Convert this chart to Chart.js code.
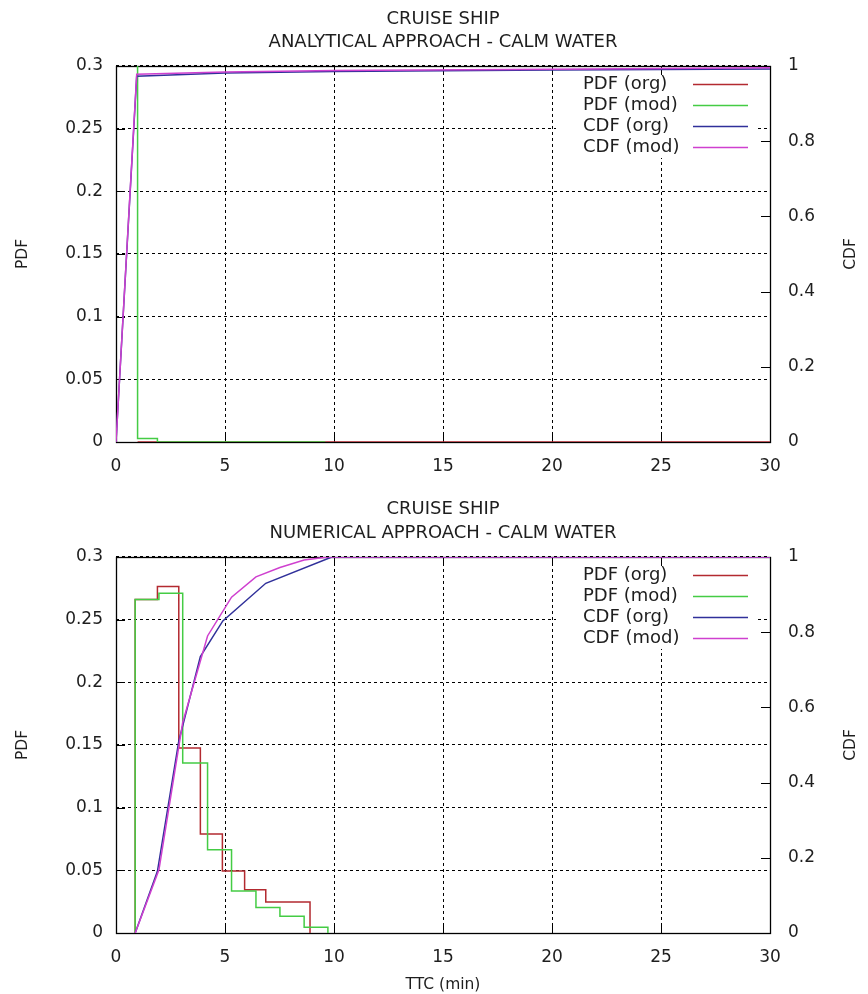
<!DOCTYPE html>
<html>
<head>
<meta charset="utf-8">
<title>Cruise ship TTC distributions</title>
<script src="https://cdn.jsdelivr.net/npm/chart.js@4"></script>
<style>
  html, body { margin: 0; padding: 0; background: #fff; }
  #wrap { position: relative; width: 868px; height: 994px; background: #fff; }
  canvas { position: absolute; left: 0; }
  #top { top: 0; }
  #bottom { top: 490px; }
</style>
</head>
<body>
<div id="wrap">
  <canvas id="top" width="868" height="490"></canvas>
  <canvas id="bottom" width="868" height="504"></canvas>
</div>
<script>
// ---- shared labels and ticks ----
const seriesLabels = ['PDF (org)', 'PDF (mod)', 'CDF (org)', 'CDF (mod)'];
const seriesColors = ['#b32a30', '#44cc44', '#30309a', '#cf40cf'];

const xTicks = [0, 5, 10, 15, 20, 25, 30];
const xTickLabels = ['0', '5', '10', '15', '20', '25', '30'];
const pdfTicks = [0, 0.05, 0.1, 0.15, 0.2, 0.25, 0.3];
const pdfTickLabels = ['0', '0.05', '0.1', '0.15', '0.2', '0.25', '0.3'];
const cdfTicks = [0, 0.2, 0.4, 0.6, 0.8, 1];
const cdfTickLabels = ['0', '0.2', '0.4', '0.6', '0.8', '1'];

const topTitle = ['CRUISE SHIP', 'ANALYTICAL APPROACH - CALM WATER'];
const bottomTitle = ['CRUISE SHIP', 'NUMERICAL APPROACH - CALM WATER'];
const xAxisTitle = 'TTC (min)';
const pdfAxisTitle = 'PDF';
const cdfAxisTitle = 'CDF';

// ---- analytical approach (bin left edges -> bin values, last point closes the histogram) ----
const anaPdfOrgX = [0.99, 30];
const anaPdfOrgY = [0, 0];
const anaPdfModX = [0, 0.99, 1.9, 9.6];
const anaPdfModY = [0.976, 0.0027, 0, 0];
const anaCdfOrgX = [0, 0.95, 5, 10, 20, 30];
const anaCdfOrgY = [0, 0.973, 0.981, 0.985, 0.989, 0.992];
const anaCdfModX = [0, 0.95, 5, 10, 20, 30];
const anaCdfModY = [0, 0.978, 0.984, 0.988, 0.991, 0.995];

// ---- numerical approach ----
const numPdfOrgX = [0.88, 0.88, 1.9, 2.88, 3.87, 4.88, 5.9, 6.87, 7.88, 8.9];
const numPdfOrgY = [0, 0.266, 0.2765, 0.1476, 0.079, 0.0495, 0.0346, 0.0247, 0.0247, 0];
const numPdfModX = [0.88, 0.88, 1.97, 3.06, 4.2, 5.3, 6.42, 7.52, 8.63, 9.72];
const numPdfModY = [0, 0.266, 0.271, 0.1356, 0.0665, 0.0335, 0.0204, 0.0133, 0.0045, 0];
const numCdfOrgX = [0.88, 1.9, 2.88, 3.87, 4.9, 6.87, 9.9, 30];
const numCdfOrgY = [0, 0.164, 0.51, 0.735, 0.83, 0.93, 1, 1];
const numCdfModX = [0.88, 1.97, 3.06, 4.2, 5.3, 6.42, 7.52, 8.63, 9.72, 30];
const numCdfModY = [0, 0.168, 0.56, 0.79, 0.893, 0.947, 0.972, 0.992, 1, 1];

const FONT = '"DejaVu Sans", Verdana, sans-serif';
const TEXT = '#1e1e1e';

function pts(xs, ys) { return xs.map((x, i) => ({ x: x, y: ys[i] })); }

// Frame, inward tick marks, opaque key box, key entries and the right-hand axis title
const gnuFrame = {
  id: 'gnuFrame',
  beforeDatasetsDraw(chart) {
    const { ctx, chartArea: a, scales } = chart;
    ctx.save();
    ctx.fillStyle = '#fff';
    ctx.fillRect(a.left + 440, a.top + 7, 202, 85);
    ctx.strokeStyle = '#000';
    ctx.lineWidth = 1;
    const T = 9;
    ctx.beginPath();
    scales.x.ticks.forEach(t => {
      const px = Math.round(scales.x.getPixelForValue(t.value)) + 0.5;
      ctx.moveTo(px, a.bottom); ctx.lineTo(px, a.bottom - T);
      ctx.moveTo(px, a.top); ctx.lineTo(px, a.top + T);
    });
    scales.y.ticks.forEach(t => {
      const py = Math.round(scales.y.getPixelForValue(t.value)) + 0.5;
      ctx.moveTo(a.left, py); ctx.lineTo(a.left + T, py);
    });
    scales.y2.ticks.forEach(t => {
      const py = Math.round(scales.y2.getPixelForValue(t.value)) + 0.5;
      ctx.moveTo(a.right, py); ctx.lineTo(a.right - T, py);
    });
    ctx.stroke();
    ctx.lineWidth = 1.3;
    ctx.strokeRect(Math.round(a.left) + 0.5, Math.round(a.top) + 0.5,
                   Math.round(a.right - a.left), Math.round(a.bottom - a.top));
    ctx.restore();
  },
  afterDatasetsDraw(chart) {
    const { ctx, chartArea: a } = chart;
    ctx.save();
    ctx.font = '18px ' + FONT;
    ctx.textAlign = 'left';
    ctx.textBaseline = 'middle';
    seriesLabels.forEach((lab, i) => {
      const y = a.top + 18 + 21 * i;
      ctx.fillStyle = TEXT;
      ctx.fillText(lab, a.left + 467, y);
      ctx.strokeStyle = seriesColors[i];
      ctx.lineWidth = 1.5;
      ctx.beginPath();
      ctx.moveTo(a.left + 577, Math.round(y) + 0.5);
      ctx.lineTo(a.left + 632, Math.round(y) + 0.5);
      ctx.stroke();
    });
    // right axis title, reading bottom to top
    ctx.font = '15.5px ' + FONT;
    ctx.fillStyle = TEXT;
    ctx.textAlign = 'center';
    ctx.translate(851, (a.top + a.bottom) / 2);
    ctx.rotate(-Math.PI / 2);
    ctx.fillText(cdfAxisTitle, 0, 0);
    ctx.restore();
  }
};

function makeChart(canvasId, title, titlePad, xHeight, showXTitle, data) {
  const tickFont = { family: FONT, size: 17 };
  // 'before': hold the previous value until the next bin edge, then jump
  const datasets = [
    { label: seriesLabels[0], data: pts(data[0][0], data[0][1]), yAxisID: 'y', stepped: 'before', borderColor: seriesColors[0], order: 4 },
    { label: seriesLabels[1], data: pts(data[1][0], data[1][1]), yAxisID: 'y', stepped: 'before', borderColor: seriesColors[1], order: 3 },
    { label: seriesLabels[2], data: pts(data[2][0], data[2][1]), yAxisID: 'y2', borderColor: seriesColors[2], order: 2 },
    { label: seriesLabels[3], data: pts(data[3][0], data[3][1]), yAxisID: 'y2', borderColor: seriesColors[3], order: 1 }
  ];
  datasets.forEach(d => { d.borderWidth = 1.5; d.pointRadius = 0; d.tension = 0; d.fill = false; });

  return new Chart(document.getElementById(canvasId), {
    type: 'line',
    data: { datasets: datasets },
    plugins: [gnuFrame],
    options: {
      responsive: false,
      devicePixelRatio: 1,
      animation: false,
      events: [],
      layout: { padding: 0 },
      plugins: {
        legend: { display: false },
        tooltip: { enabled: false },
        title: {
          display: true,
          text: title,
          fullSize: false,
          color: TEXT,
          font: { family: FONT, size: 18, weight: 'normal', lineHeight: 1.28 },
          padding: titlePad
        }
      },
      scales: {
        x: {
          type: 'linear', position: 'bottom', min: 0, max: 30,
          afterBuildTicks: s => { s.ticks = xTicks.map(v => ({ value: v })); },
          afterFit: s => { s.height = xHeight; },
          ticks: { callback: (v, i) => xTickLabels[i], font: tickFont, color: TEXT, padding: 14, maxRotation: 0, autoSkip: false },
          grid: { color: '#000', lineWidth: 1, drawTicks: false },
          border: { display: false, dash: [3, 3] },
          title: { display: showXTitle, text: xAxisTitle, color: TEXT,
                   font: { family: FONT, size: 15.5, lineHeight: 1.2 }, padding: { top: 0, bottom: 0 } }
        },
        y: {
          type: 'linear', position: 'left', min: 0, max: 0.3,
          afterBuildTicks: s => { s.ticks = pdfTicks.map(v => ({ value: v })); },
          afterFit: s => { s.width = 116; },
          ticks: { callback: (v, i) => pdfTickLabels[i], font: tickFont, color: TEXT, padding: 13 },
          grid: { color: '#000', lineWidth: 1, drawTicks: false },
          border: { display: false, dash: [3, 3] },
          title: { display: true, text: pdfAxisTitle, color: TEXT,
                   font: { family: FONT, size: 15.5, lineHeight: 1.2 }, padding: { top: 14, bottom: 0 } }
        },
        y2: {
          type: 'linear', position: 'right', min: 0, max: 1,
          afterBuildTicks: s => { s.ticks = cdfTicks.map(v => ({ value: v })); },
          afterFit: s => { s.width = 98; },
          ticks: { callback: (v, i) => cdfTickLabels[i], font: tickFont, color: TEXT, padding: 18 },
          grid: { drawOnChartArea: false, drawTicks: false },
          border: { display: false }
        }
      }
    }
  });
}

makeChart('top', topTitle, { top: 7.5, bottom: 12.4 }, 48, false, [
  [anaPdfOrgX, anaPdfOrgY], [anaPdfModX, anaPdfModY],
  [anaCdfOrgX, anaCdfOrgY], [anaCdfModX, anaCdfModY]
]);
makeChart('bottom', bottomTitle, { top: 8.3, bottom: 12.6 }, 61, true, [
  [numPdfOrgX, numPdfOrgY], [numPdfModX, numPdfModY],
  [numCdfOrgX, numCdfOrgY], [numCdfModX, numCdfModY]
]);
</script>
</body>
</html>
